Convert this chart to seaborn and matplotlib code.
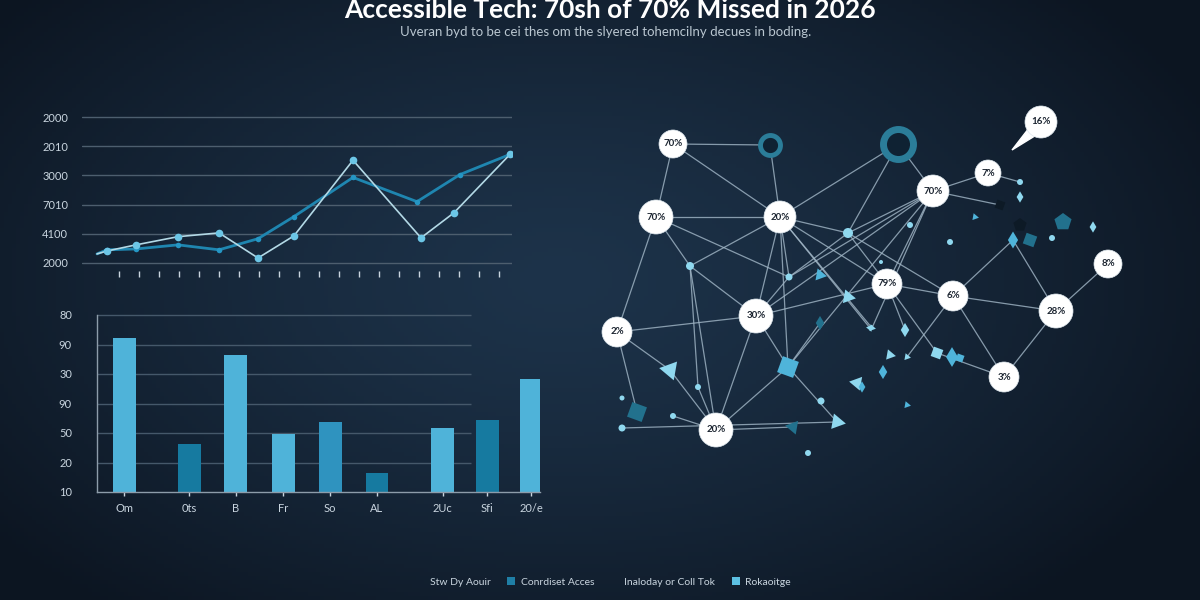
import numpy as np
import matplotlib.pyplot as plt
import seaborn as sns
from matplotlib.patches import Patch

# ---- text ----
title = 'Accessible Tech: 70sh of 70% Missed in 2026'
subtitle = 'Uveran byd to be cei thes om the slyered tohemcilny decues in boding.'

# ---- line chart (two series) ----
line_ytick_labels = ['2000', '4100', '7010', '3000', '2010', '2000']
light_x = [-1.1, -0.6, 0.85, 2.95, 5.0, 6.95, 8.75, 11.7, 15.1, 16.75, 19.55]
light_y = [0.31, 0.41, 0.62, 0.90, 1.03, 0.17, 0.93, 3.52, 0.86, 1.72, 3.72]
dark_x = [-1.1, -0.6, 0.85, 2.95, 5.0, 6.95, 8.75, 11.7, 14.9, 17.05, 19.55]
dark_y = [0.31, 0.45, 0.48, 0.62, 0.45, 0.83, 1.59, 2.93, 2.10, 3.03, 3.72]

# ---- bar chart ----
bar_labels = ['Om', '0ts', 'B', 'Fr', 'So', 'AL', '2Uc', 'Sfi', '20/e']
bar_pos = [0.0, 1.44, 2.47, 3.53, 4.57, 5.61, 7.07, 8.06, 9.04]
bar_val = [5.22, 1.63, 4.64, 1.97, 2.37, 0.64, 2.17, 2.44, 3.83]
bar_tone = ['light', 'dark', 'light', 'light', 'mid', 'dark', 'light', 'dark', 'light']
bar_ytick_labels = ['10', '20', '50', '90', '30', '90', '80']

# ---- legend ----
legend_labels = ['Stw Dy Aouir', 'Conrdiset Acces', 'Inaloday or Coll Tok', 'Rokaoitge']
legend_colors = ['none', '#1f7fa6', 'none', '#5cc0e2']

# ---- network (pixel layout) ----
node_x = [673, 656, 780, 933, 988, 1041, 1108, 887, 953, 1056, 1004, 756, 617, 716]
node_y = [144, 217, 217, 191, 173, 122, 264, 284, 296, 311, 377, 316, 332, 430]
node_r = [14, 17, 16, 16, 13, 16, 14, 15, 15, 17, 15, 17, 15, 17]
node_label = ['70%', '70%', '20%', '70%', '7%', '16%', '8%', '79%', '6%', '28%', '3%', '30%', '2%', '20%']

hub_x = [848, 690, 789, 698, 673, 622, 622, 821, 808, 881, 1020, 910, 1052, 950]
hub_y = [233, 266, 277, 387, 416, 398, 428, 401, 453, 262, 182, 225, 238, 242]
hub_r = [5, 4, 3.5, 3, 3, 2.5, 3.5, 3.5, 3, 2, 3, 3, 3, 3]

ring_x = [770, 898]
ring_y = [145, 144]
ring_r = [10, 15]
ring_w = [3.5, 5]

shard_x = [788, 670, 637, 837, 793, 848, 820, 872, 890, 883, 857, 937, 952, 907, 862, 907,
           975, 1020, 1013, 1030, 1063, 1093, 820, 870, 960, 1000, 1020, 905]
shard_y = [367, 370, 412, 422, 427, 297, 323, 328, 355, 372, 383, 353, 357, 357, 387, 405,
           217, 197, 240, 240, 222, 227, 275, 328, 358, 205, 225, 330]
shard_r = [12, 11, 11, 9, 8, 8, 5, 4, 6, 5, 8, 7, 7, 4, 4, 4,
           4, 4, 6, 8, 9, 4, 7, 4, 5, 6, 7, 5]
shard_tone = ['mid', 'light', 'dark', 'light', 'dark', 'light', 'dark', 'light', 'light', 'mid',
              'light', 'light', 'mid', 'light', 'mid', 'mid', 'mid', 'light', 'mid', 'dark',
              'dark', 'light', 'mid', 'light', 'mid', 'deep', 'deep', 'light']
shard_shape = ['quad', 'wedge', 'quad', 'tri', 'wedge', 'tri', 'diamond', 'tri', 'tri', 'diamond',
               'wedge', 'quad', 'diamond', 'tri', 'diamond', 'tri', 'tri', 'diamond', 'diamond', 'quad',
               'pent', 'diamond', 'tri', 'wedge', 'quad', 'quad', 'pent', 'diamond']

# anchors: nodes 0-13, hubs 14-27, rings 28-29, shards 30+
edges = [(0, 28), (0, 1), (0, 2), (1, 2), (28, 2), (2, 29), (29, 14), (29, 3),
         (1, 15), (1, 12), (1, 16), (2, 15), (2, 11), (2, 7), (2, 14), (2, 30), (2, 16),
         (2, 37), (2, 53), (14, 3), (14, 7), (14, 16), (14, 8), (3, 4), (4, 24), (3, 7),
         (3, 11), (3, 30), (3, 16), (3, 37), (15, 11), (15, 17), (15, 13), (12, 11), (12, 31),
         (12, 32), (11, 13), (11, 30), (11, 7), (13, 18), (13, 31), (13, 30), (13, 34),
         (30, 33), (30, 36), (7, 8), (8, 9), (9, 6), (9, 10), (8, 10), (8, 48), (9, 48),
         (10, 41), (16, 11), (17, 13), (8, 43), (7, 41), (20, 33), (3, 55), (7, 57)]

sns.set_theme(style='dark')
plt.rcParams['font.family'] = ['Lato', 'DejaVu Sans']
txt = '#c9d5df'

fig = plt.figure(figsize=(12, 6), dpi=100)
W, H = 1200, 600

# background + network on a full-figure pixel axes
bg = fig.add_axes([0, 0, 1, 1])
X, Y = np.meshgrid(np.linspace(0, W, 300), np.linspace(0, H, 150))
d = np.clip(np.sqrt(((X - 560) / 720) ** 2 + ((Y - 280) / 430) ** 2), 0, 1) ** 1.3
c0 = np.array([0x1d, 0x33, 0x4a]) / 255
c1 = np.array([0x0c, 0x15, 0x21]) / 255
grad = c0[None, None, :] * (1 - d[..., None]) + c1[None, None, :] * d[..., None]
bg.imshow(grad, extent=(0, W, H, 0), aspect='auto', zorder=0)
bg.set_xlim(0, W)
bg.set_ylim(H, 0)
bg.axis('off')

ax_x = node_x + hub_x + ring_x + shard_x
ax_y = node_y + hub_y + ring_y + shard_y
for a, b in edges:
    bg.plot([ax_x[a], ax_x[b]], [ax_y[a], ax_y[b]], color='#a3b8c8', lw=0.9, alpha=0.8, zorder=1)

px2pt = 72 / 100
tone_pal = {'light': '#8fd8ef', 'mid': '#4fb4da', 'dark': '#22718d', 'deep': '#0d1a26'}
shape_mk = {'tri': (3, 0, 20), 'wedge': (3, 0, 200), 'quad': (4, 0, 25), 'diamond': 'd', 'pent': 'p'}
sns.scatterplot(x=shard_x, y=shard_y, hue=shard_tone, style=shard_shape, palette=tone_pal,
                markers=shape_mk, s=[(2 * r * px2pt) ** 2 for r in shard_r], linewidth=0,
                legend=False, ax=bg, zorder=2)
sns.scatterplot(x=hub_x, y=hub_y, color='#8fd8ef', s=[(2 * r * px2pt) ** 2 for r in hub_r],
                linewidth=0, legend=False, ax=bg, zorder=3)
for rx, ry, rr, rw in zip(ring_x, ring_y, ring_r, ring_w):
    sns.scatterplot(x=[rx], y=[ry], color='#0f2233', s=(2 * rr * px2pt) ** 2,
                    edgecolor='#2b7d99', linewidth=rw, legend=False, ax=bg, zorder=3)

# speech-bubble tail on the 16% node
bx, by = node_x[5], node_y[5]
bg.fill([bx - 12, bx - 29, bx - 3], [by + 6, by + 28, by + 12], color='white', zorder=4)
sns.scatterplot(x=node_x, y=node_y, color='white', s=[(2 * r * px2pt) ** 2 for r in node_r],
                edgecolor='#dfe8ee', linewidth=0.5, legend=False, ax=bg, zorder=5)
for x, y, lab in zip(node_x, node_y, node_label):
    bg.text(x, y, lab, ha='center', va='center', fontsize=7, fontweight='bold',
            color='#1b2430', zorder=6)
bg.set_xlim(0, W)
bg.set_ylim(H, 0)
bg.axis('off')

# ---- line chart axes ----
def fig_box(x0, y0, x1, y1):
    return [x0 / W, 1 - y1 / H, (x1 - x0) / W, (y1 - y0) / H]

ax1 = fig.add_axes(fig_box(82, 110, 512, 271))
ax1.set_facecolor('none')
for yv in range(6):
    ax1.axhline(yv, color='#4d5e6e', lw=1, zorder=0)
sns.lineplot(x=dark_x, y=dark_y, color='#1f86b0', lw=2, marker='o', markersize=4,
             markerfacecolor='#2596c4', markeredgewidth=0, markevery=list(range(1, len(dark_x))),
             estimator=None, ax=ax1, zorder=2)
sns.lineplot(x=light_x, y=light_y, color='#b3d9e6', lw=1.2, marker='o', markersize=5.5,
             markerfacecolor='#6cc6e6', markeredgewidth=0, markevery=list(range(1, len(light_x))),
             estimator=None, ax=ax1, zorder=3)
ax1.set_xlim(-1.85, 19.65)
ax1.set_ylim(-(271 - 263) / 29, 5 + 7 / 29)
ax1.set_yticks(range(6))
ax1.set_yticklabels(line_ytick_labels)
ax1.set_xticks(range(20))
ax1.set_xticklabels([])
ax1.tick_params(axis='x', colors='#c9d5df', length=4, width=1, direction='out', bottom=True)
ax1.tick_params(axis='y', colors=txt, labelsize=8, length=0, pad=10)
ax1.grid(False)
for s in ax1.spines.values():
    s.set_visible(False)
ax1.set_xlabel('')
ax1.set_ylabel('')

# ---- bar chart axes ----
ax2 = fig.add_axes(fig_box(97, 310, 540, 492))
ax2.set_facecolor('none')
bar_pal = {'light': '#4fb3d9', 'dark': '#167aa0', 'mid': '#2f93bf'}
grid_right = (471 - 124.5) / 45
ax2.hlines(range(1, 7), -0.61, grid_right, color='#45586a', lw=1, zorder=0)
sns.barplot(x=bar_pos, y=bar_val, hue=bar_tone, palette=bar_pal, native_scale=True,
            width=0.52, dodge=False, saturation=1, legend=False, ax=ax2, zorder=2,
            edgecolor='none', linewidth=0)
ax2.set_xlim(-0.61, 9.23)
ax2.set_ylim(0, 6 + 5 / 29.5)
ax2.set_yticks(range(7))
ax2.set_yticklabels(bar_ytick_labels)
ax2.set_xticks(bar_pos)
ax2.set_xticklabels(bar_labels)
ax2.tick_params(axis='y', colors=txt, labelsize=8, length=0, pad=18)
ax2.tick_params(axis='x', colors=txt, labelsize=8, length=3, width=1, direction='out',
                bottom=True, pad=5)
ax2.grid(False)
for side in ['top', 'right']:
    ax2.spines[side].set_visible(False)
for side in ['left', 'bottom']:
    ax2.spines[side].set_color('#8d9caa')
    ax2.spines[side].set_linewidth(1)
ax2.spines['left'].set_bounds(0, 6)
ax2.set_xlabel('')
ax2.set_ylabel('')

# ---- titles ----
fig.text(0.508, 0.984, title, ha='center', va='center', fontsize=19, fontweight='bold', color='white')
fig.text(0.505, 0.946, subtitle, ha='center', va='center', fontsize=9.5, color='#b9c6d0')

# ---- legend ----
handles = [Patch(facecolor=c, edgecolor='none') for c in legend_colors]
fig.legend(handles, legend_labels, loc='center', bbox_to_anchor=(0.503, 0.03), ncol=4,
           frameon=False, fontsize=7.5, labelcolor=txt, handlelength=0.8, handleheight=0.8,
           handletextpad=0.5, columnspacing=1.6)

fig.savefig('out.png', dpi=100)
